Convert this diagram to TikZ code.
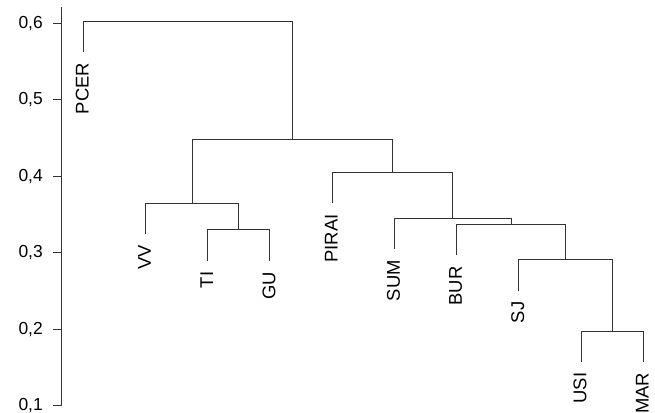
\documentclass[tikz,border=0pt]{standalone}
\usepackage{fontspec}
\setmainfont{Liberation Sans}
\usetikzlibrary{positioning}

\tikzset{
  branch/.style={draw=black!80, line width=1bp},
  leaflab/.style={rotate=90, anchor=east, inner sep=0pt,
                  font=\fontsize{18.5}{20}\selectfont},
  ticklab/.style={anchor=east, inner sep=0pt,
                  font=\fontsize{17.5}{18}\selectfont}
}

\begin{document}
\begin{tikzpicture}[x=62.22bp, y=765bp]
        \useasboundingbox (-0.3388,0.0905) rectangle (10.188,0.6303);
        % height axis
        \draw[branch] (0.6416,0.1) -- (0.6416,0.621);
        \foreach \i in {1,...,6}
        {
          \draw[branch] (0.513,0.\i) -- (0.6416,0.\i);
          \node[ticklab] (t\i) at (0.352,0.\i) {0,\i};
        }

        % leaves
        \coordinate (pcer)  at (1,0.5625);
        \coordinate (vv)    at (2,0.3246);
        \coordinate (ti)    at (3,0.2897);
        \coordinate (gu)    at (4,0.2897);
        \coordinate (pirai) at (5,0.3646);
        \coordinate (sum)   at (6,0.3050);
        \coordinate (bur)   at (7,0.2966);
        \coordinate (sj)    at (8,0.2505);
        \coordinate (usi)   at (9,0.1576);
        \coordinate (mar)   at (10,0.1576);

        % merges
        \coordinate (m1) at (9.5,0.1976);
        \coordinate (m2) at (8.75,0.2905);
        \coordinate (m3) at (7.875,0.3366);
        \coordinate (m4) at (6.9375,0.3450);
        \coordinate (m5) at (5.96875,0.4046);
        \coordinate (m6) at (3.5,0.3297);
        \coordinate (m7) at (2.75,0.3646);
        \coordinate (m8) at (4.359375,0.4482);
        \coordinate (m9) at (2.6796875,0.6025);

        \draw[branch] (usi)   |- (m1) -| (mar);
        \draw[branch] (sj)    |- (m2) -| (m1);
        \draw[branch] (bur)   |- (m3) -| (m2);
        \draw[branch] (sum)   |- (m4) -| (m3);
        \draw[branch] (pirai) |- (m5) -| (m4);
        \draw[branch] (ti)    |- (m6) -| (gu);
        \draw[branch] (vv)    |- (m7) -| (m6);
        \draw[branch] (m7)    |- (m8) -| (m5);
        \draw[branch] (pcer)  |- (m9) -| (m8);

        \foreach \n/\t in {pcer/PCER, vv/VV, ti/TI, gu/GU, pirai/PIRAI,
                           sum/SUM, bur/BUR, sj/SJ, usi/USI, mar/MAR}
        {
          \node[leaflab] (l\n) at ([yshift=-11bp,xshift=-1bp]\n) {\t};
        }
\end{tikzpicture}
\end{document}
